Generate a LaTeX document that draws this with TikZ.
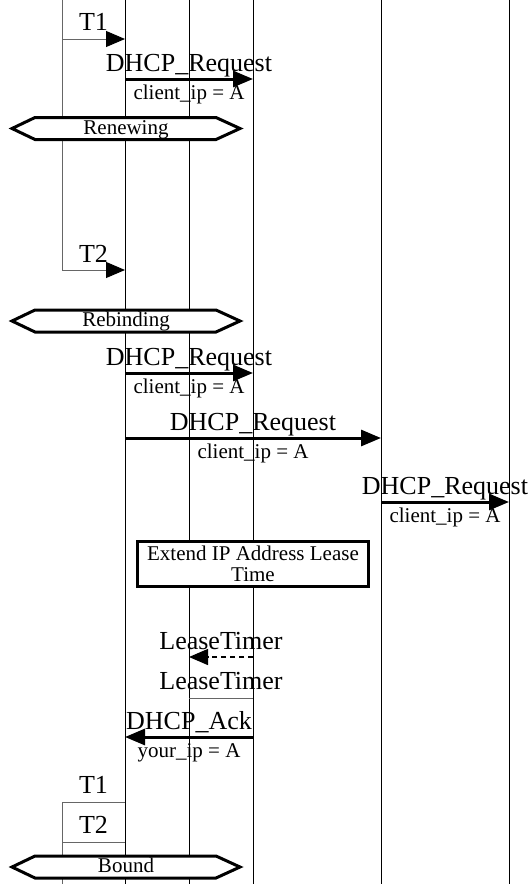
\documentclass[tikz,border=0pt]{standalone}
\usepackage{fontspec}
\setmainfont{Liberation Serif}
\usetikzlibrary{arrows.meta}
\begin{document}
\begin{tikzpicture}[x=1pt,y=-1pt,
  life/.style={line width=0.9pt, black},
  tmr/.style={line width=0.9pt, black!60},
  msg/.style={line width=3pt, -{Triangle[length=20pt,width=16pt]}},
  tmsg/.style={line width=0.9pt, black!60, -{Triangle[length=19pt,width=16pt,color=black]}},
  dmsg/.style={line width=1.4pt, dash pattern=on 5pt off 4pt, -{Triangle[length=19pt,width=16pt]}},
  big/.style={font=\fontsize{26}{28}\selectfont, inner sep=0pt, anchor=base},
  small/.style={font=\fontsize{21}{23}\selectfont, inner sep=0pt, anchor=base},
  hex/.style={line width=3pt, fill=white, line join=miter},
]
\useasboundingbox (0,0) rectangle (532,884);
% lifelines
\coordinate (Bt) at (125,0);  \coordinate (Bb) at (125,884);
\coordinate (Ct) at (189,0);  \coordinate (Cb) at (189,884);
\coordinate (Dt) at (253,0);  \coordinate (Db) at (253,884);
\coordinate (Et) at (381,0);  \coordinate (Eb) at (381,884);
\coordinate (Ft) at (509,0);  \coordinate (Fb) at (509,884);
\draw[life] (Bt) -- (Bb);
\draw[life] (Ct) -- (Cb);
\draw[life] (Dt) -- (Db);
\draw[life] (Et) -- (Eb);
\draw[life] (Ft) -- (Fb);

% top timers T1 / T2
\coordinate (At) at (62,0);
\coordinate (T1c) at (62,39);  \coordinate (T1e) at (125,39);
\coordinate (T2c) at (62,270); \coordinate (T2e) at (125,270);
\draw[tmr] (At) -- (T2c);
\draw[tmsg] (T1c) -- (T1e);
\draw[tmsg] (T2c) -- (T2e);
\node[big] (t1lab) at (93.5,30) {T1};
\node[big] (t2lab) at (93.5,262) {T2};

% message 1
\coordinate (m1s) at (125,79); \coordinate (m1e) at (253,79);
\draw[msg] (m1s) -- (m1e);
\node[big] (m1l) at (189,71) {DHCP\_Request};
\node[small] (m1s2) at (189,99) {client\_ip = A};

% Renewing hexagon
\draw[hex] (12,128.5) -- (35,117.5) -- (216,117.5) -- (240,128.5) -- (216,139.5) -- (35,139.5) -- cycle;
\node[small] (ren) at (126,134) {Renewing};

% Rebinding hexagon
\draw[hex] (12,321) -- (35,310) -- (216,310) -- (240,321) -- (216,332) -- (35,332) -- cycle;
\node[small] (reb) at (126,326.5) {Rebinding};

% message 2
\coordinate (m2s) at (125,373); \coordinate (m2e) at (253,373);
\draw[msg] (m2s) -- (m2e);
\node[big] (m2l) at (189,365) {DHCP\_Request};
\node[small] (m2s2) at (189,393) {client\_ip = A};

% message 3
\coordinate (m3s) at (125,438); \coordinate (m3e) at (381,438);
\draw[msg] (m3s) -- (m3e);
\node[big] (m3l) at (253,430) {DHCP\_Request};
\node[small] (m3s2) at (253,458) {client\_ip = A};

% message 4
\coordinate (m4s) at (381,502); \coordinate (m4e) at (509,502);
\draw[msg] (m4s) -- (m4e);
\node[big] (m4l) at (445,494) {DHCP\_Request};
\node[small] (m4s2) at (445,522) {client\_ip = A};

% Extend box
\node[draw, line width=2.6pt, fill=white, minimum width=231pt, minimum height=45pt,
      inner sep=0pt, align=center, font=\fontsize{21}{21}\selectfont] (ext) at (253,564)
  {Extend IP Address Lease\\Time};

% LeaseTimer dashed
\coordinate (lts) at (253,657); \coordinate (lte) at (189,657);
\draw[dmsg] (lts) -- (lte);
\node[big] (lt1) at (221,649) {LeaseTimer};

% LeaseTimer timer start
\coordinate (ltc) at (189,698); \coordinate (ltd) at (253,698);
\draw[tmr] (ltc) -- (ltd);
\node[big] (lt2) at (221,689) {LeaseTimer};

% DHCP_Ack
\coordinate (aks) at (253,737); \coordinate (ake) at (125,737);
\draw[msg] (aks) -- (ake);
\node[big] (akl) at (189,729) {DHCP\_Ack};
\node[small] (aks2) at (189,757) {your\_ip = A};

% bottom timers
\coordinate (T1b) at (62,802); \coordinate (T1be) at (125,802);
\coordinate (T2b) at (62,842); \coordinate (T2be) at (125,842);
\coordinate (Ab) at (62,884);
\draw[tmr] (T1b) -- (Ab);
\draw[tmr] (T1b) -- (T1be);
\draw[tmr] (T2b) -- (T2be);
\node[big] (t1b) at (93.5,793) {T1};
\node[big] (t2b) at (93.5,833) {T2};

% Bound hexagon
\draw[hex] (12,867) -- (35,856) -- (216,856) -- (240,867) -- (216,878) -- (35,878) -- cycle;
\node[small] (bnd) at (126,872.5) {Bound};
\end{tikzpicture}
\end{document}
